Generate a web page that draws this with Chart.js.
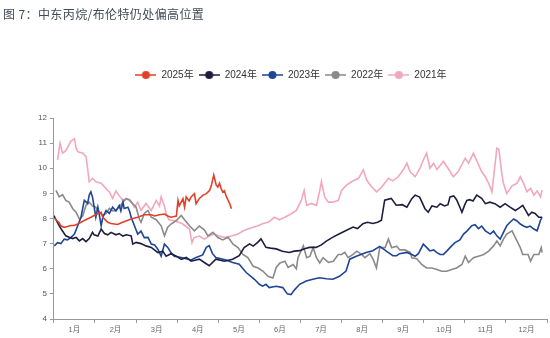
<!DOCTYPE html>
<html>
<head>
<meta charset="utf-8">
<script src="https://cdn.jsdelivr.net/npm/chart.js@4.4.1/dist/chart.umd.min.js"></script>
<style>
  body { margin: 0; background: #fff; }
  #wrap { position: relative; width: 550px; height: 338px; }
  #title { position: absolute; left: 3px; top: 5px; font: 12px "Noto Sans CJK SC", sans-serif; color: #414b57; letter-spacing: 0.4px; }
</style>
</head>
<body>
<div id="wrap">
  <div id="title">图 7：中东丙烷/布伦特仍处偏高位置</div>
  <canvas id="chart" width="550" height="338"></canvas>
</div>
<script>
// tick labels for the month axis
var monthLabels = ['1月', '2月', '3月', '4月', '5月', '6月', '7月', '8月', '9月', '10月', '11月', '12月'];

// series names
var seriesNames = ['2025年', '2024年', '2023年', '2022年', '2021年'];

// 2025: position in year (months) and ratio
var x2025 = [0.02,0.08,0.12,0.17,0.25,0.33,0.41,0.49,0.58,0.74,
  0.90,1.06,1.15,1.19,1.31,1.39,1.55,1.63,1.72,1.88,
  2.04,2.20,2.37,2.45,2.57,2.69,2.77,2.85,2.98,3.02,
  3.05,3.14,3.18,3.22,3.29,3.34,3.42,3.46,3.54,3.63,
  3.71,3.79,3.83,3.89,3.95,3.99,4.03,4.07,4.11,4.15,
  4.20,4.28,4.32];
var v2025 = [8.0,7.9,7.85,7.71,7.65,7.68,7.72,7.72,7.78,7.92,
  8.05,8.19,8.25,8.05,7.85,7.8,7.76,7.82,7.88,7.98,
  8.05,8.15,8.15,8.1,8.15,8.18,8.1,8.05,8.1,8.72,
  8.5,8.79,8.45,8.86,8.7,8.86,8.99,8.59,8.8,8.93,
  8.99,9.12,9.3,9.73,9.33,9.25,9.4,9.19,9.05,9.1,
  8.86,8.59,8.39];

// 2024
var x2024 = [0.0,0.05,0.13,0.21,0.29,0.37,0.46,0.54,0.62,0.70,
  0.78,0.86,0.94,0.98,1.07,1.15,1.23,1.31,1.39,1.51,
  1.59,1.68,1.76,1.88,1.92,2.00,2.12,2.24,2.37,2.53,
  2.65,2.73,2.85,2.98,3.10,3.22,3.34,3.46,3.54,3.66,
  3.78,3.94,4.15,4.35,4.51,4.63,4.76,4.85,4.96,5.04,
  5.16,5.27,5.41,5.56,5.73,5.85,5.98,6.10,6.22,6.38,
  6.51,6.63,6.79,6.95,7.11,7.28,7.39,7.52,7.63,7.76,
  7.88,7.97,8.05,8.21,8.33,8.48,8.59,8.71,8.79,8.90,
  9.03,9.11,9.20,9.32,9.40,9.51,9.59,9.64,9.73,9.80,
  9.88,9.93,10.00,10.05,10.12,10.20,10.29,10.41,10.50,10.61,
  10.73,10.86,10.98,11.10,11.23,11.31,11.41,11.47,11.55,11.63,
  11.71,11.80,11.88];
var v2024 = [8.12,7.95,7.71,7.5,7.31,7.25,7.2,7.25,7.11,7.2,
  7.08,7.2,7.45,7.35,7.3,7.58,7.4,7.35,7.45,7.35,
  7.4,7.3,7.35,7.31,6.98,7.05,7.0,6.91,6.85,6.64,
  6.7,6.5,6.6,6.5,6.37,6.45,6.3,6.35,6.38,6.25,
  6.12,6.38,6.3,6.38,6.52,6.84,6.99,6.9,7.05,7.19,
  6.85,6.82,6.79,6.7,6.65,6.7,6.72,6.8,6.85,6.85,
  6.95,7.1,7.26,7.39,7.52,7.66,7.6,7.79,7.85,7.8,
  7.85,7.93,8.73,8.8,8.53,8.55,8.45,8.79,8.93,8.85,
  8.39,8.25,8.5,8.45,8.59,8.5,8.55,8.86,8.9,8.75,
  8.45,8.25,8.55,8.72,8.75,8.7,8.93,8.8,8.59,8.65,
  8.59,8.45,8.59,8.45,8.32,8.4,8.52,8.35,8.12,8.25,
  8.2,8.05,8.05];

// 2023
var x2023 = [0.01,0.09,0.17,0.25,0.33,0.41,0.50,0.58,0.66,0.70,
  0.74,0.82,0.86,0.90,0.94,0.98,1.02,1.07,1.10,1.15,
  1.19,1.27,1.35,1.43,1.51,1.59,1.63,1.68,1.71,1.80,
  1.84,1.88,1.96,2.04,2.12,2.20,2.29,2.37,2.45,2.53,
  2.61,2.69,2.77,2.85,2.93,3.10,3.22,3.34,3.46,3.54,
  3.62,3.71,3.78,3.86,3.94,4.19,4.35,4.51,4.68,4.88,
  5.00,5.08,5.16,5.24,5.41,5.57,5.68,5.77,5.85,5.98,
  6.14,6.30,6.46,6.63,6.79,6.95,7.11,7.20,7.36,7.60,
  7.76,7.93,8.09,8.25,8.34,8.41,8.59,8.71,8.79,8.87,
  8.99,9.07,9.15,9.24,9.32,9.40,9.48,9.56,9.68,9.76,
  9.88,9.97,10.05,10.17,10.25,10.33,10.41,10.50,10.62,10.70,
  10.78,10.86,10.94,11.02,11.10,11.19,11.27,11.35,11.43,11.51,
  11.59,11.68,11.76,11.84,11.88];
var v2023 = [6.91,7.04,7.0,7.18,7.15,7.24,7.38,7.71,8.05,8.39,
  8.72,8.6,8.93,9.06,8.85,8.45,8.05,8.45,8.2,7.71,
  8.05,8.32,8.2,8.45,8.3,8.52,8.3,8.65,8.4,8.45,
  8.3,8.05,7.71,7.38,7.5,7.24,7.25,6.98,6.95,6.78,
  6.5,6.98,6.85,6.64,6.5,6.45,6.4,6.35,6.45,6.5,
  6.55,6.85,6.92,6.6,6.45,6.35,6.25,6.18,5.85,5.58,
  5.38,5.31,5.38,5.25,5.3,5.25,5.0,4.97,5.15,5.38,
  5.51,5.58,5.64,5.6,5.58,5.7,5.91,6.38,6.5,6.65,
  6.72,6.89,6.7,6.52,6.52,6.6,6.65,6.57,6.5,6.6,
  6.98,6.85,6.71,6.75,6.64,6.57,6.57,6.7,6.91,7.04,
  7.15,7.38,7.5,7.71,7.75,7.6,7.7,7.51,7.38,7.5,
  7.31,7.18,7.45,7.71,7.85,7.98,7.9,7.78,7.7,7.65,
  7.7,7.58,7.51,7.92,8.05];

// 2022
var x2022 = [0.05,0.13,0.21,0.29,0.37,0.46,0.54,0.62,0.70,0.78,
  0.86,0.94,1.02,1.10,1.19,1.27,1.35,1.43,1.51,1.59,
  1.68,1.76,1.84,1.92,2.00,2.08,2.12,2.20,2.29,2.37,
  2.49,2.61,2.69,2.77,2.85,2.98,3.10,3.18,3.30,3.42,
  3.54,3.66,3.75,3.87,3.99,4.11,4.24,4.36,4.48,4.60,
  4.72,4.85,4.97,5.09,5.21,5.33,5.41,5.50,5.62,5.70,
  5.82,5.90,5.94,6.07,6.15,6.23,6.31,6.39,6.47,6.55,
  6.68,6.80,6.92,7.00,7.08,7.16,7.28,7.37,7.49,7.57,
  7.69,7.77,7.85,7.93,8.06,8.14,8.22,8.34,8.42,8.54,
  8.67,8.71,8.83,8.95,9.07,9.20,9.32,9.44,9.56,9.68,
  9.80,9.93,10.01,10.09,10.21,10.33,10.46,10.58,10.70,10.78,
  10.86,10.94,11.02,11.15,11.23,11.35,11.41,11.54,11.60,11.68,
  11.80,11.86,11.88];
var v2022 = [9.12,8.86,8.95,8.72,8.65,8.39,8.25,7.98,8.1,8.52,
  8.65,8.5,8.45,8.25,8.12,8.2,8.4,8.3,8.32,8.45,
  8.65,8.79,8.75,8.59,8.45,7.98,7.85,8.2,8.32,8.05,
  7.95,7.71,7.31,7.65,7.78,7.92,8.12,7.95,7.71,7.51,
  7.7,7.55,7.31,7.45,7.24,7.15,7.25,6.98,6.84,6.57,
  6.44,6.10,6.03,5.9,5.7,5.63,6.05,6.23,6.3,6.05,
  6.17,6.0,6.44,6.91,6.44,6.5,6.84,6.44,6.23,6.44,
  6.25,6.3,6.57,6.57,6.65,6.44,6.57,6.7,6.57,6.44,
  6.6,6.37,6.03,6.84,6.84,7.18,6.84,6.9,6.75,6.75,
  6.65,6.44,6.4,6.17,6.03,6.03,5.97,5.9,5.9,5.97,
  6.03,6.17,6.5,6.25,6.44,6.5,6.57,6.7,6.91,7.11,
  6.91,7.18,7.38,7.51,7.24,6.84,6.57,6.57,6.30,6.57,
  6.57,6.84,6.64];

// 2021
var x2021 = [0.09,0.15,0.21,0.29,0.41,0.50,0.54,0.58,0.70,0.78,
  0.82,0.86,0.94,1.02,1.15,1.23,1.35,1.43,1.51,1.59,
  1.68,1.76,1.88,1.96,2.04,2.12,2.24,2.37,2.49,2.57,
  2.61,2.69,2.73,2.80,2.95,3.12,3.30,3.36,3.41,3.54,
  3.66,3.78,3.90,4.02,4.15,4.32,4.48,4.60,4.72,4.85,
  4.97,5.09,5.21,5.37,5.49,5.62,5.78,5.90,6.02,6.09,
  6.15,6.27,6.39,6.47,6.51,6.59,6.68,6.78,6.92,7.00,
  7.12,7.24,7.41,7.53,7.61,7.73,7.85,7.98,8.14,8.24,
  8.38,8.50,8.59,8.67,8.79,8.91,8.99,9.07,9.15,9.24,
  9.32,9.48,9.59,9.72,9.83,10.01,10.09,10.21,10.29,10.41,
  10.50,10.58,10.66,10.78,10.83,10.90,10.94,11.02,11.15,11.27,
  11.35,11.43,11.51,11.60,11.68,11.76,11.84,11.88];
var v2021 = [10.33,11.0,10.6,10.7,11.07,11.17,10.8,10.66,10.6,10.47,
  10.0,9.46,9.6,9.46,9.4,9.26,9.06,8.8,9.1,8.9,
  8.72,8.8,8.65,8.45,8.65,8.32,8.6,8.32,8.72,8.5,
  8.86,8.5,8.2,7.95,7.9,7.8,7.58,7.04,7.24,7.3,
  7.18,7.3,7.38,7.3,7.25,7.3,7.38,7.5,7.58,7.65,
  7.71,7.8,7.85,8.05,7.95,8.05,8.19,8.32,8.72,9.12,
  8.52,8.6,8.52,9.12,9.46,8.86,8.65,8.65,8.72,9.12,
  9.33,9.46,9.6,9.93,9.53,9.26,9.06,9.26,9.6,9.5,
  9.66,9.93,10.2,9.86,9.66,10.0,10.33,10.6,10.0,10.2,
  9.95,10.27,10.0,9.66,9.85,10.4,10.2,10.6,10.3,9.86,
  9.66,9.4,9.06,10.8,10.75,9.8,9.4,9.0,9.3,9.4,
  9.66,9.4,9.06,9.2,8.93,9.1,8.86,9.13];

var seriesColors = ['#e0412a', '#1d1d3f', '#1f4594', '#8a8a8a', '#f2a7bd'];

// pair x and y arrays into points
var toPoints = function(xs, ys) {
  var pts = [];
  for (var i = 0; i < xs.length; i++) {
    pts.push({x: xs[i], y: ys[i]});
  }
  return pts;
};

// legend marker: short line with a dot
var legendIcon = function(color) {
  var c = document.createElement('canvas');
  c.width = 21;
  c.height = 10;
  var g = c.getContext('2d');
  g.strokeStyle = color;
  g.lineWidth = 1.5;
  g.beginPath();
  g.moveTo(0, 5);
  g.lineTo(21, 5);
  g.stroke();
  g.fillStyle = color;
  g.beginPath();
  g.arc(10.5, 5, 4, 0, Math.PI * 2);
  g.fill();
  return c;
};

var xs = [x2025, x2024, x2023, x2022, x2021];
var ys = [v2025, v2024, v2023, v2022, v2021];
var datasets = [];
for (var i = 0; i < seriesNames.length; i++) {
  datasets.push({
    label: seriesNames[i],
    data: toPoints(xs[i], ys[i]),
    borderColor: seriesColors[i],
    backgroundColor: seriesColors[i],
    borderWidth: 1.6,
    pointRadius: 0,
    pointHoverRadius: 0,
    pointStyle: legendIcon(seriesColors[i]),
    tension: 0
  });
}

// extra space under the legend
var legendGap = {
  id: 'legendGap',
  beforeInit: function(chart) {
    var fit = chart.legend.fit;
    chart.legend.fit = function() {
      fit.call(this);
      this.height += 28;
    };
  }
};

Chart.defaults.font.family = '"Liberation Sans", "Noto Sans CJK SC", sans-serif';

var ctx = document.getElementById('chart').getContext('2d');
new Chart(ctx, {
  type: 'line',
  data: {datasets: datasets},
  plugins: [legendGap],
  options: {
    responsive: false,
    animation: false,
    layout: {padding: {left: 35, right: 3, top: 65, bottom: 2}},
    plugins: {
      legend: {
        position: 'top',
        labels: {
          usePointStyle: true,
          pointStyleWidth: 21,
          boxHeight: 10,
          padding: 5,
          color: '#333',
          font: {size: 10}
        }
      },
      tooltip: {enabled: false}
    },
    scales: {
      x: {
        type: 'linear',
        min: 0,
        max: 12,
        afterBuildTicks: function(axis) {
          var t = [];
          for (var k = 0; k <= 24; k++) t.push({value: k / 2});
          axis.ticks = t;
        },
        ticks: {
          autoSkip: false,
          maxRotation: 0,
          padding: 2,
          color: '#666',
          font: {size: 7.5},
          callback: function(v) {
            return (v % 1 === 0.5) ? monthLabels[Math.floor(v)] : '';
          }
        },
        grid: {
          drawOnChartArea: false,
          tickLength: 4,
          tickColor: function(c) {
            return (c.tick && c.tick.value % 1 === 0) ? '#999' : 'rgba(0,0,0,0)';
          }
        },
        border: {color: '#999'}
      },
      y: {
        min: 4,
        max: 12,
        ticks: {stepSize: 1, padding: 3, color: '#555', font: {size: 8}},
        grid: {drawOnChartArea: false, tickLength: 4, tickColor: '#999'},
        border: {color: '#999'}
      }
    }
  }
});
</script>
</body>
</html>
